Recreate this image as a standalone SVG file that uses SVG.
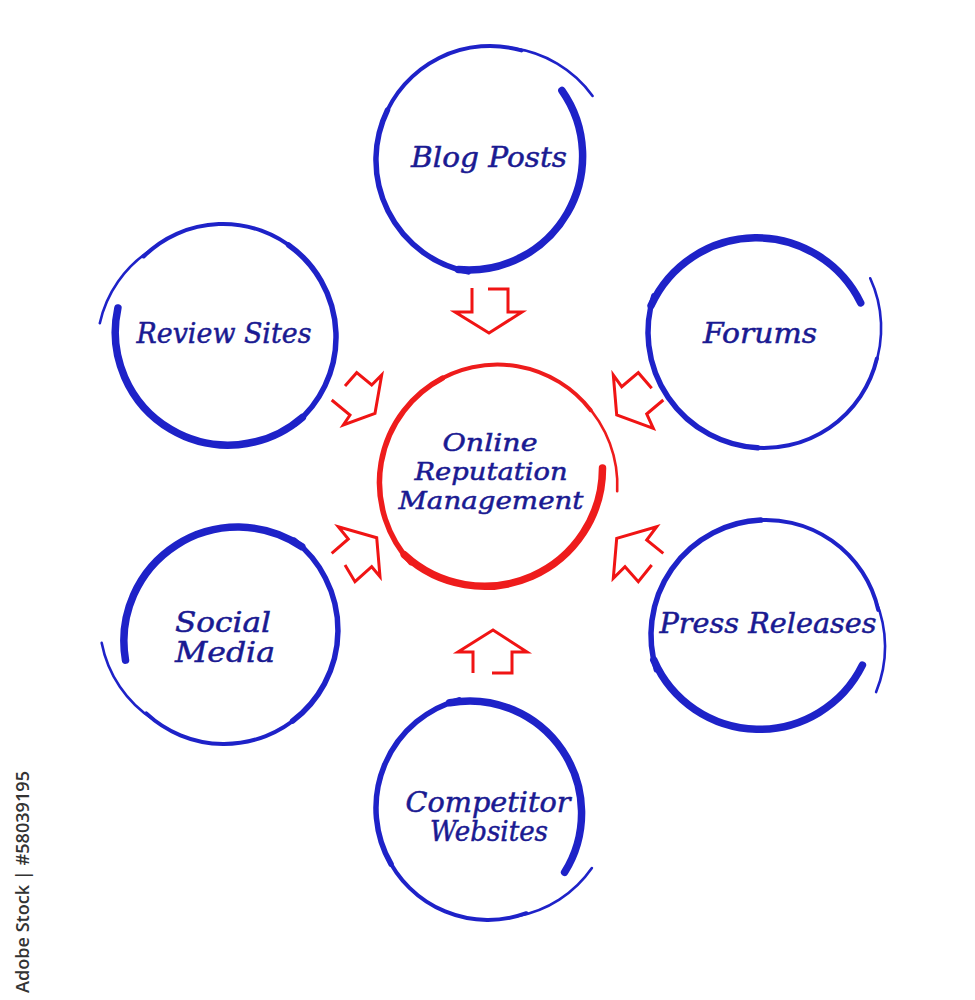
<svg xmlns="http://www.w3.org/2000/svg" width="975" height="1000" viewBox="0 0 975 1000">
<defs>
<style>
.b{fill:none;stroke:#1e22c8;stroke-linecap:round}
.r{fill:none;stroke:#ee1c1c;stroke-linecap:round}
.w1{stroke-width:7.5}
.w2{stroke-width:5.5}
.w3{stroke-width:4}
.w4{stroke-width:2.6}
.ar{fill:none;stroke:#f01414;stroke-width:3;stroke-linejoin:miter}
.t{font-family:"DejaVu Serif","Liberation Serif",serif;font-style:italic;fill:#1a1a92;stroke:#1a1a92;stroke-width:0.5;text-anchor:middle}
.o{font-size:27px}
.c{font-size:24px}
.wm{font-family:"Open Sans","DejaVu Sans",sans-serif;font-size:18px;font-weight:600;fill:#333333}
</style>
</defs>
<rect width="975" height="1000" fill="#ffffff"/>

<g id="blog-posts">
<path class="b w1" d="M561.9,90.5 A114,114 0 0 1 458.6,269.6"/>
<path class="b w2" d="M468.2,271.9 A114,114 0 0 1 387.5,110.0"/>
<path class="b w3" d="M383.6,119.1 A114,114 0 0 1 521.4,50.4"/>
<path class="b w4" d="M511.8,48.1 A117,117 0 0 1 592.6,95.9"/>
<text class="t o" x="489" y="167" textLength="156" lengthAdjust="spacingAndGlyphs">Blog Posts</text>
</g>

<g id="review-sites">
<path class="b w1" d="M117.9,308.0 A113,113 0 0 0 302.3,417.5"/>
<path class="b w2" d="M295.0,424.1 A113,113 0 0 0 288.5,244.9"/>
<path class="b w3" d="M296.2,250.9 A113,113 0 0 0 143.6,256.5"/>
<path class="b w4" d="M151.0,249.9 A117,117 0 0 0 99.8,323.2"/>
<text class="t o" x="224" y="343" textLength="175" lengthAdjust="spacingAndGlyphs">Review Sites</text>
</g>

<g id="forums">
<path class="b w1" d="M860.7,302.8 A116,116 0 0 0 651.1,305.5"/>
<path class="b w2" d="M653.8,295.8 A116,116 0 0 0 757.5,447.8"/>
<path class="b w3" d="M747.5,446.8 A116,116 0 0 0 876.9,358.5"/>
<path class="b w4" d="M874.2,368.2 A119,119 0 0 0 870.2,278.3"/>
<text class="t o" x="760" y="343" textLength="114" lengthAdjust="spacingAndGlyphs">Forums</text>
</g>

<g id="social-media">
<path class="b w1" d="M125.5,660.1 A114,114 0 0 1 301.7,546.6"/>
<path class="b w2" d="M294.2,540.2 A114,114 0 0 1 292.6,721.0"/>
<path class="b w3" d="M300.3,714.7 A114,114 0 0 1 146.3,713.4"/>
<path class="b w4" d="M153.8,719.8 A118,118 0 0 1 101.7,642.9"/>
<text class="t o" x="223" y="632" textLength="96" lengthAdjust="spacingAndGlyphs">Social</text>
<text class="t o" x="225" y="662" textLength="100" lengthAdjust="spacingAndGlyphs">Media</text>
</g>

<g id="press-releases">
<path class="b w1" d="M862.4,665.2 A115,115 0 0 1 653.8,660.1"/>
<path class="b w2" d="M656.4,669.8 A115,115 0 0 1 760.8,520.1"/>
<path class="b w3" d="M750.8,521.0 A115,115 0 0 1 878.2,609.9"/>
<path class="b w4" d="M875.6,600.2 A119,119 0 0 1 876.1,692.1"/>
<text class="t o" x="768" y="633" textLength="217" lengthAdjust="spacingAndGlyphs">Press Releases</text>
</g>

<g id="competitor-websites">
<path class="b w1" d="M564.6,872.3 A112,112 0 0 0 449.7,702.8"/>
<path class="b w2" d="M459.0,699.8 A112,112 0 0 0 391.0,864.0"/>
<path class="b w3" d="M386.5,855.3 A112,112 0 0 0 526.3,913.2"/>
<path class="b w4" d="M517.0,916.2 A116,116 0 0 0 591.9,868.0"/>
<text class="t o" x="488" y="812" textLength="165" lengthAdjust="spacingAndGlyphs">Competitor</text>
<text class="t o" x="489" y="841" textLength="118" lengthAdjust="spacingAndGlyphs">Websites</text>
</g>

<g id="online-reputation-management">
<path class="r w1" d="M602.5,468.1 A118,118 0 0 1 404.3,554.8"/>
<path class="r w2" d="M410.9,562.7 A118,118 0 0 1 442.5,378.1"/>
<path class="r w3" d="M433.6,383.3 A118,118 0 0 1 590.7,410.2"/>
<path class="r w4" d="M584.1,402.3 A120,120 0 0 1 617.2,491.3"/>
<text class="t c" x="490" y="451" textLength="95" lengthAdjust="spacingAndGlyphs">Online</text>
<text class="t c" x="491" y="480" textLength="153" lengthAdjust="spacingAndGlyphs">Reputation</text>
<text class="t c" x="491" y="509" textLength="185" lengthAdjust="spacingAndGlyphs">Management</text>
</g>

<g id="connectors">
<path class="ar" d="M488,289 L508,289 L508,312 L522,312 L489,333 L455,312 L472,312 L472,288"/>
<path class="ar" d="M473,673 L473,652 L458,652 L493,630 L527,652 L512,652 L512,673 L492,673"/>
<path class="ar" d="M331.7,400 L350,415 L343.3,425 L375,413.3 L381.7,375 L371.7,385 L356.7,372.7 L345,386"/>
<path class="ar" d="M651.7,388.3 L638.3,372.7 L621.7,386.7 L613.3,375 L616.7,415 L653.3,428.3 L646.7,414 L663.3,400"/>
<path class="ar" d="M331.7,553.3 L348.3,539 L338.3,526.7 L376.7,537.7 L380,576.7 L371.7,566.7 L355,581.7 L345,565"/>
<path class="ar" d="M663.3,553.3 L646.7,540 L656.7,526.7 L616.7,538.3 L613.3,578.3 L625,566.7 L638.3,581.7 L651.7,565"/>
</g>

<text class="wm" transform="translate(29,993) rotate(-90)" textLength="222" lengthAdjust="spacingAndGlyphs">Adobe Stock | #58039195</text>
</svg>
